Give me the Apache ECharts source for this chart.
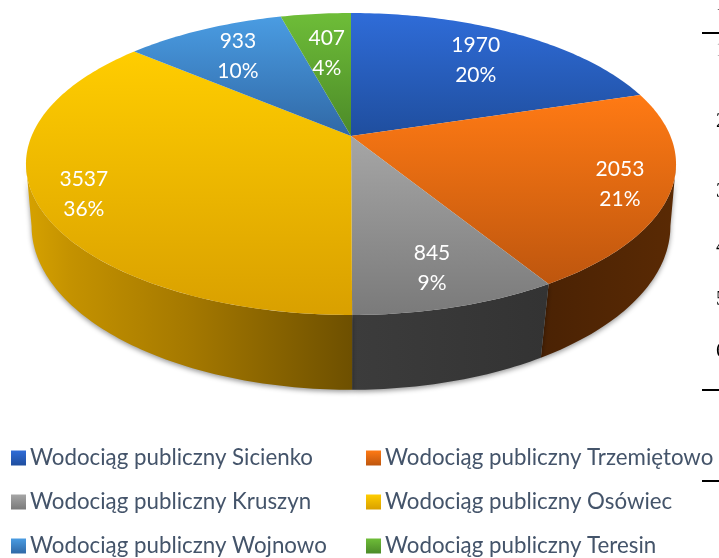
<!DOCTYPE html>
<html><head><meta charset="utf-8">
<style>html,body{margin:0;padding:0;background:#fff;overflow:hidden}#c{width:719px;height:558px}</style>
<script src="https://cdn.jsdelivr.net/npm/echarts@6/dist/echarts.min.js"></script>
</head><body><div id="c"></div>
<script>
const categories = ['Wodociąg publiczny Sicienko','Wodociąg publiczny Trzemiętowo','Wodociąg publiczny Kruszyn','Wodociąg publiczny Osówiec','Wodociąg publiczny Wojnowo','Wodociąg publiczny Teresin'];
const values = [1970,2053,845,3537,933,407];
const topColors = [['#2F6CD8','#1F4E9E'],['#FF7A14','#BE560E'],['#A6A6A6','#7A7A7A'],['#FFCD00','#D9A000'],['#4A9CE2','#3068A6'],['#6EBD38','#4C8A28']];
const wallColors = [['#1A3A78','#1A3A78'],['#4A2204','#5A2A04'],['#3C3C3C','#333333'],['#D4A000','#6E5000'],['#2A5A90','#2A5A90'],['#3E7020','#3E7020']];
const labelRadius = [0.73,0.85,0.80,0.86,0.74,0.65];
const sideTicks = ['1','1','2','3','4','5','6'];

const total = values.reduce((a,b)=>a+b,0);
const starts = []; values.reduce((acc,v,i)=>{starts[i]=acc;return acc+v;},0);
const CX=351;
const TOP={A:319.4,B:145.8,K:-0.1854,y0:136};
const BASE={A:315.4,B:159.8,K:-0.158,y0:200};
// Where a disc is widest: the wall runs only between these two points.
const widest=d=>Math.acos(d.K)/(2*Math.PI);
function project(frac,r,d){
  const t=frac*2*Math.PI, u=Math.sin(t), v=-Math.cos(t), q=1+d.K*r*v;
  return [CX+d.A*r*u/q, d.y0+d.B*r*v/q];
}
function arcBetween(a,b,d){
  const pts=[], n=Math.max(8,Math.ceil((b-a)*360));
  for(let j=0;j<=n;j++) pts.push(project(a+(b-a)*j/n,1,d));
  return pts;
}
function grad(c){return {type:'linear',x:0,y:0,x2:0,y2:1,colorStops:[{offset:0,color:c[0]},{offset:1,color:c[1]}]};}
function hgrad(i){
  const c=wallColors[i];
  if(i===3) return {type:'linear',x:32,y:0,x2:351,y2:0,global:true,colorStops:[{offset:0,color:c[0]},{offset:0.12,color:'#C49200'},{offset:0.5,color:'#A47800'},{offset:1,color:c[1]}]};
  return {type:'linear',x:0,y:0,x2:1,y2:0,colorStops:[{offset:0,color:c[0]},{offset:1,color:c[1]}]};
}
function wallArc(i,d){
  const f=widest(d);
  return [Math.max(starts[i]/total,f),Math.min((starts[i]+values[i])/total,1-f)];
}
const wallSeries = categories.map((name,i)=>({
  type:'custom',name,coordinateSystem:'none',silent:true,animation:false,
  data:[values[i]],itemStyle:{color:grad(topColors[i])},
  renderItem(){
    const [a,b]=wallArc(i,TOP), [c,e]=wallArc(i,BASE);
    if(b<=a||e<=c) return {type:'group',children:[]};
    const t=arcBetween(a,b,TOP), w=arcBetween(c,e,BASE).reverse();
    return {type:'polygon',shape:{points:t.concat(w)},style:{fill:hgrad(i),shadowBlur:5,shadowColor:'rgba(0,0,0,0.4)',shadowOffsetX:0,shadowOffsetY:2}};
  }
}));
const topSeries = categories.map((name,i)=>({
  type:'custom',name,coordinateSystem:'none',silent:true,animation:false,
  data:[values[i]],itemStyle:{color:grad(topColors[i])},
  renderItem(){
    const centre=[CX,TOP.y0];
    const mid=(starts[i]+values[i]/2)/total;
    const p=project(mid,labelRadius[i],TOP);
    return {type:'group',children:[
      {type:'polygon',shape:{points:[centre].concat(arcBetween(starts[i]/total,(starts[i]+values[i])/total,TOP))},style:{fill:grad(topColors[i])}},
      {type:'text',x:p[0],y:p[1]+1.5,z2:10,style:{text:values[i]+'\n'+Math.round(values[i]/total*100)+'%',fill:'#fff',font:'21px Lato',align:'center',verticalAlign:'middle',lineHeight:30}}
    ]};
  }
}));
function legend(names,left){
  return {orient:'vertical',left,top:446,itemWidth:15,itemHeight:15,itemGap:20,padding:0,icon:'rect',
    data:names.map(n=>({name:n,itemStyle:{color:grad(topColors[categories.indexOf(n)])}})),
    selectedMode:false,textStyle:{color:'#44546A',fontFamily:'Lato',fontSize:22.3,padding:[0,0,0,-1],lineHeight:24},itemStyle:{borderWidth:0}};
}
const tickY=[5,51,122,192,247,300,352];
const chart=echarts.init(document.getElementById('c'),null,{renderer:'canvas'});
chart.setOption({
  animation:false,backgroundColor:'#fff',
  legend:[legend([categories[0],categories[2],categories[4]],11),legend([categories[1],categories[3],categories[5]],366)],
  graphic:[
    ...[33,390,481].map(y=>({type:'line',shape:{x1:702,y1:y,x2:719,y2:y},style:{stroke:'#000',lineWidth:2},silent:true})),
    ...sideTicks.map((s,i)=>({type:'text',x:716,y:tickY[i],silent:true,style:{text:s,font:'20px "Liberation Serif"',fill:i===1?'#888':'#000',verticalAlign:'middle'}}))
  ],
  series:wallSeries.concat(topSeries)
});
</script></body></html>
